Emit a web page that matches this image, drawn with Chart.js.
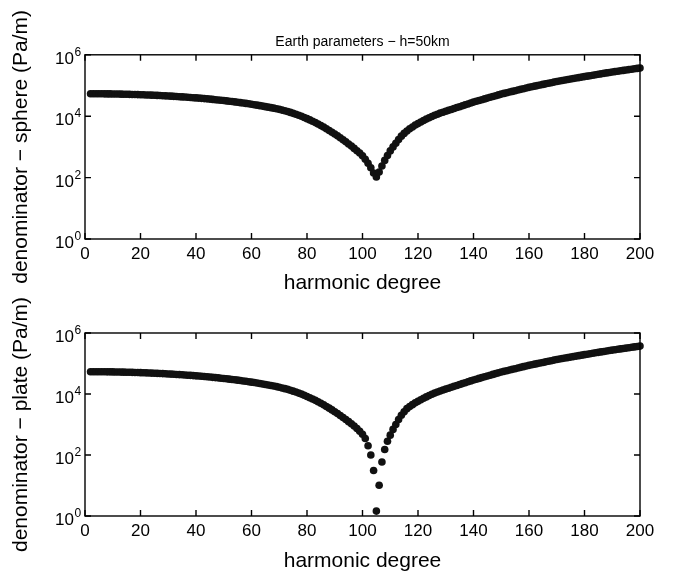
<!DOCTYPE html>
<html>
<head>
<meta charset="utf-8">
<script src="https://cdn.jsdelivr.net/npm/chart.js@4.4.1/dist/chart.umd.min.js"></script>
<style>
  html, body { margin: 0; padding: 0; background: #fff; }
  #wrap { position: relative; width: 676px; height: 575px; overflow: hidden; }
  canvas { position: absolute; left: 0; }
  #sphere { top: 0; }
  #plate { top: 280px; }
</style>
</head>
<body>
<div id="wrap">
  <canvas id="sphere" width="676" height="300"></canvas>
  <canvas id="plate" width="676" height="295"></canvas>
</div>
<script>
// harmonic degree of each point
const degrees = [
  2, 3, 4, 5, 6, 7, 8, 9, 10,
  11, 12, 13, 14, 15, 16, 17, 18, 19, 20,
  21, 22, 23, 24, 25, 26, 27, 28, 29, 30,
  31, 32, 33, 34, 35, 36, 37, 38, 39, 40,
  41, 42, 43, 44, 45, 46, 47, 48, 49, 50,
  51, 52, 53, 54, 55, 56, 57, 58, 59, 60,
  61, 62, 63, 64, 65, 66, 67, 68, 69, 70,
  71, 72, 73, 74, 75, 76, 77, 78, 79, 80,
  81, 82, 83, 84, 85, 86, 87, 88, 89, 90,
  91, 92, 93, 94, 95, 96, 97, 98, 99, 100,
  101, 102, 103, 104, 105, 106, 107, 108, 109, 110,
  111, 112, 113, 114, 115, 116, 117, 118, 119, 120,
  121, 122, 123, 124, 125, 126, 127, 128, 129, 130,
  131, 132, 133, 134, 135, 136, 137, 138, 139, 140,
  141, 142, 143, 144, 145, 146, 147, 148, 149, 150,
  151, 152, 153, 154, 155, 156, 157, 158, 159, 160,
  161, 162, 163, 164, 165, 166, 167, 168, 169, 170,
  171, 172, 173, 174, 175, 176, 177, 178, 179, 180,
  181, 182, 183, 184, 185, 186, 187, 188, 189, 190,
  191, 192, 193, 194, 195, 196, 197, 198, 199, 200
];

// denominator - sphere (Pa/m)
const sphere = [
  53900, 53900, 53800, 53700, 53600, 53500, 53300, 53200, 53000,
  52800, 52600, 52300, 52100, 51800, 51500, 51200, 50800, 50500, 50100,
  49700, 49300, 48900, 48500, 48000, 47600, 47100, 46600, 46000, 45500,
  45000, 44400, 43800, 43200, 42600, 42000, 41400, 40800, 40100, 39400,
  38800, 38100, 37400, 36700, 36000, 35200, 34500, 33800, 33000, 32300,
  31500, 30700, 30000, 29200, 28400, 27600, 26800, 26100, 25300, 24500,
  23700, 22900, 22100, 21300, 20500, 19700, 19000, 18300, 17500, 16700,
  15800, 15000, 14200, 13300, 12400, 11600, 10700, 9910, 9100, 8320,
  7570, 6850, 6180, 5550, 4950, 4410, 3900, 3440, 3010, 2630,
  2290, 1980, 1700, 1460, 1240, 1060, 893, 752, 631, 513,
  398, 295, 209, 141, 105, 151, 240, 363, 525, 741,
  1000, 1320, 1740, 2240, 2750, 3310, 3890, 4470, 5130, 5750,
  6460, 7240, 8040, 8910, 9770, 10700, 11600, 12600, 13500, 14500,
  15500, 16600, 17800, 19100, 20400, 21900, 23400, 25100, 26900, 28800,
  30600, 32500, 34500, 36600, 38900, 41300, 43900, 46600, 49400, 52500,
  55200, 58100, 61100, 64300, 67600, 71100, 74800, 78700, 82800, 87100,
  91000, 95100, 99300, 103800, 108400, 113200, 118300, 123600, 129100, 134900,
  140000, 145200, 150700, 156300, 162200, 168300, 174600, 181100, 187900, 195000,
  201800, 208900, 216300, 223900, 231700, 239900, 248300, 257000, 266100, 275400,
  283800, 292400, 301300, 310500, 319900, 329600, 339600, 349900, 360600, 371500
];

// denominator - plate (Pa/m)
const plate = [
  53900, 53900, 53800, 53700, 53600, 53500, 53300, 53200, 53000,
  52800, 52600, 52300, 52100, 51800, 51500, 51200, 50800, 50500, 50100,
  49700, 49300, 48900, 48500, 48000, 47600, 47100, 46600, 46000, 45500,
  45000, 44400, 43800, 43200, 42600, 42000, 41400, 40800, 40100, 39400,
  38800, 38100, 37400, 36700, 36000, 35200, 34500, 33800, 33000, 32300,
  31500, 30700, 30000, 29200, 28400, 27600, 26800, 26100, 25300, 24500,
  23700, 22900, 22100, 21300, 20500, 19700, 19000, 18300, 17500, 16700,
  15800, 15000, 14200, 13300, 12400, 11600, 10700, 9910, 9100, 8320,
  7570, 6850, 6180, 5550, 4950, 4410, 3900, 3440, 3010, 2630,
  2290, 1980, 1700, 1460, 1240, 1060, 893, 741, 603, 479,
  347, 200, 100, 30.9, 1.45, 10.2, 58.9, 151, 282, 447,
  692, 1000, 1450, 2000, 2630, 3310, 3890, 4470, 5130, 5750,
  6460, 7240, 8040, 8910, 9770, 10700, 11600, 12600, 13500, 14500,
  15500, 16600, 17800, 19100, 20400, 21900, 23400, 25100, 26900, 28800,
  30600, 32500, 34500, 36600, 38900, 41300, 43900, 46600, 49400, 52500,
  55200, 58100, 61100, 64300, 67600, 71100, 74800, 78700, 82800, 87100,
  91000, 95100, 99300, 103800, 108400, 113200, 118300, 123600, 129100, 134900,
  140000, 145200, 150700, 156300, 162200, 168300, 174600, 181100, 187900, 195000,
  201800, 208900, 216300, 223900, 231700, 239900, 248300, 257000, 266100, 275400,
  283800, 292400, 301300, 310500, 319900, 329600, 339600, 349900, 360600, 371500
];

const xTicks = [0, 20, 40, 60, 80, 100, 120, 140, 160, 180, 200];
const yExponents = [0, 2, 4, 6];

const FONT = '"Liberation Sans", Arial, Helvetica, sans-serif';

// matlab style box, inward ticks on all sides, 10^n labels
const frame = {
  id: 'frame',
  afterDraw(chart) {
    const ctx = chart.ctx;
    const {left, right, top, bottom} = chart.chartArea;
    const x = chart.scales.x, y = chart.scales.y;
    ctx.save();
    ctx.strokeStyle = '#000';
    ctx.lineWidth = 1.4;
    ctx.strokeRect(left, top, right - left, bottom - top);
    ctx.beginPath();
    xTicks.forEach(v => {
      const px = x.getPixelForValue(v);
      ctx.moveTo(px, bottom); ctx.lineTo(px, bottom - 6);
      ctx.moveTo(px, top); ctx.lineTo(px, top + 6);
    });
    yExponents.forEach(e => {
      const py = y.getPixelForValue(Math.pow(10, e));
      ctx.moveTo(left, py); ctx.lineTo(left + 6, py);
      ctx.moveTo(right, py); ctx.lineTo(right - 6, py);
    });
    ctx.stroke();

    ctx.fillStyle = '#000';
    ctx.textBaseline = 'alphabetic';
    yExponents.forEach(e => {
      const py = y.getPixelForValue(Math.pow(10, e));
      ctx.font = '17px ' + FONT;
      ctx.textAlign = 'right';
      ctx.fillText('10', left - 11, py + 9);
      ctx.font = '12px ' + FONT;
      ctx.textAlign = 'left';
      ctx.fillText(String(e), left - 10.5, py + 1);
    });
    ctx.restore();
  }
};

function makePlot(id, values, yTitle, title, padTop, axisHeight, xTitlePad) {
  const points = degrees.map((d, i) => ({x: d, y: values[i]}));
  return new Chart(document.getElementById(id), {
    type: 'scatter',
    data: {
      datasets: [{
        data: points,
        pointRadius: 3.8,
        pointHoverRadius: 3.8,
        pointBorderWidth: 0,
        pointBackgroundColor: '#111',
        showLine: false,
        clip: false
      }]
    },
    options: {
      responsive: false,
      animation: false,
      layout: {padding: {left: 0, right: 36, top: padTop, bottom: 0}},
      plugins: {
        legend: {display: false},
        tooltip: {enabled: false},
        title: {
          display: !!title,
          text: title,
          fullSize: false,
          color: '#000',
          font: {family: FONT, size: 14, weight: 'normal'},
          padding: {top: 34, bottom: 4}
        }
      },
      scales: {
        x: {
          type: 'linear',
          min: 0,
          max: 200,
          afterBuildTicks: s => { s.ticks = xTicks.map(v => ({value: v})); },
          afterFit: s => { s.height = axisHeight; },
          grid: {display: false, drawTicks: false},
          border: {display: false},
          ticks: {
            color: '#000',
            font: {family: FONT, size: 17},
            padding: 5,
            maxRotation: 0,
            autoSkip: false
          },
          title: {
            display: true,
            text: 'harmonic degree',
            color: '#000',
            font: {family: FONT, size: 21},
            padding: {top: 0, bottom: xTitlePad}
          }
        },
        y: {
          type: 'logarithmic',
          min: 1,
          max: 1e6,
          afterBuildTicks: s => { s.ticks = yExponents.map(e => ({value: Math.pow(10, e)})); },
          afterFit: s => { s.width = 85; },
          grid: {display: false, drawTicks: false},
          border: {display: false},
          ticks: {display: false},
          title: {
            display: true,
            text: yTitle,
            color: '#000',
            font: {family: FONT, size: 21},
            padding: {top: 9, bottom: 0}
          }
        }
      }
    },
    plugins: [frame]
  });
}

makePlot('sphere', sphere, 'denominator \u2212 sphere (Pa/m)', 'Earth parameters \u2212 h=50km', 0, 61, 4);
makePlot('plate', plate, 'denominator \u2212 plate (Pa/m)', '', 53, 59, 1);
</script>
</body>
</html>
